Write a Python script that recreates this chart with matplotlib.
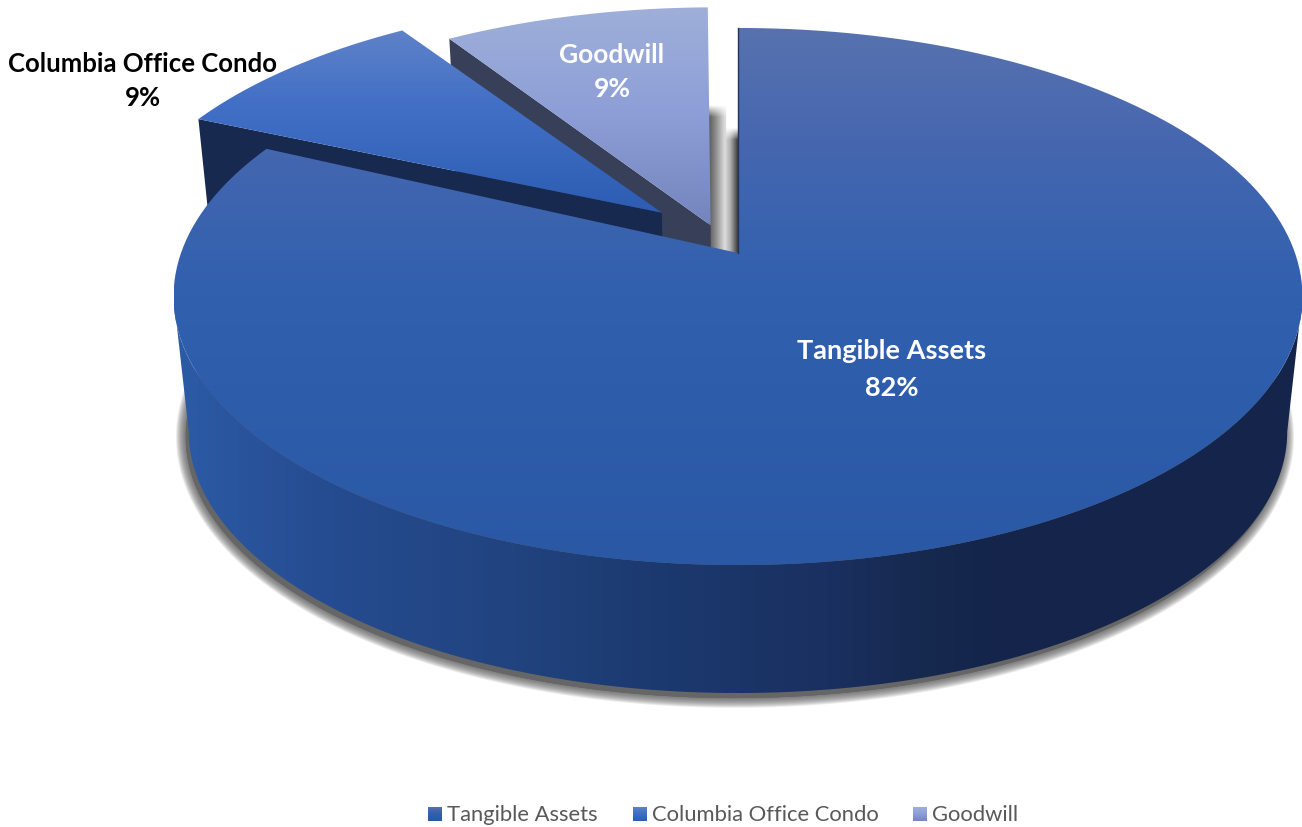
import numpy as np
import matplotlib
matplotlib.use('Agg')
import matplotlib.pyplot as plt
from matplotlib.colors import LinearSegmentedColormap
from matplotlib.patches import Polygon

# slices, clockwise from 12 o'clock
names = ['Tangible Assets', 'Columbia Office Condo', 'Goodwill']
shares = [82, 9, 9]
label_colors = ['white', 'black', 'white']
legend_color = '#595959'

# how far each slice is pulled out of the pie (disc units) and turned (degrees)
explode = [(0.0, 0.0), (-0.14, -0.158), (-0.05, -0.108)]
turn = [0, -1.6, -0.8]

# gradients as (position, colour)
top_fills = [
    [(0, '#5872ae'), (0.2, '#4767b0'), (0.5, '#3060ae'), (1, '#2a58a5')],
    [(0, '#5f82c8'), (0.4, '#4270c6'), (1, '#2c5db3')],
    [(0, '#9fafd9'), (0.5, '#8d9ed7'), (1, '#7485bd')],
]
wall_fill = [(0, '#2c5ba6'), (0.12, '#264d92'), (0.3, '#21437f'), (0.42, '#1c3a70'),
             (0.58, '#1a3060'), (0.66, '#16294f'), (0.74, '#14244a'), (1, '#14244a')]
face_colors = ['#14244a', '#17294f', '#383f58']

# disc projection with perspective, the near side is larger
cx, cy = 738, 253
rx, ry = 557, 261.5
persp = -0.162
depth_scale = 0.973
depth_drop = 136.4


def project(X, Y, z=0):
    w = 1 + persp * Y
    s = depth_scale if z else 1
    return cx + rx * X / w * s, cy + ry * Y / w * s + depth_drop * z


def rim(a0, a1, shift=(0, 0), z=0, n=200):
    a = np.radians(np.linspace(a0, a1, n))
    return np.column_stack(project(np.sin(a) + shift[0], -np.cos(a) + shift[1], z))


def shaded(ax, pts, stops, zorder, vertical=True):
    poly = Polygon(pts, closed=True, fc='none', ec='none', zorder=zorder)
    ax.add_patch(poly)
    x0, y0 = pts.min(axis=0)
    x1, y1 = pts.max(axis=0)
    cmap = LinearSegmentedColormap.from_list('fill', stops)
    g = np.linspace(0, 1, 256)
    g = g[:, None] if vertical else g[None, :]
    im = ax.imshow(g, cmap=cmap, vmin=0, vmax=1, extent=(x0, x1, y1, y0), aspect='auto',
                   interpolation='bilinear', zorder=zorder)
    im.set_clip_path(poly)


fig = plt.figure(figsize=(13.02, 8.27), dpi=100)
ax = fig.add_axes([0, 0, 1, 1])

edges = np.cumsum([0] + shares) * 3.6

# soft shadow under the pie
low = rim(75, 285, z=1) + [-3, 5]
for lw in np.arange(14, 0, -1.5):
    ax.add_patch(Polygon(low, closed=True, fc='#666666', ec='#555555', lw=lw, alpha=0.13,
                         joinstyle='round', zorder=1))
ax.add_patch(Polygon(low, closed=True, fc='#666666', ec='none', zorder=1))

# gap between the goodwill slice and the main slice
gap_x = np.linspace(708, 738, 60)
gap_y = np.linspace(98, 256, 158)
gap_cmap = LinearSegmentedColormap.from_list('gap', [(0, '#565656'), (0.26, '#8e8e8e'), (0.56, '#dddddd'),
                                                     (0.75, '#b0b0b0'), (1, '#3e3e3e')])
gap = gap_cmap((gap_x - gap_x[0]) / (gap_x[-1] - gap_x[0]))[None, :, :].repeat(len(gap_y), axis=0)
gap_top = np.where(gap_x < 726, 107, 130)
gap[:, :, 3] = np.clip((gap_y[:, None] - gap_top[None, :]) / 12 + 0.2, 0, 1)
ax.imshow(gap, extent=(708, 738, 256, 98), aspect='auto', interpolation='bilinear', zorder=2)

# cut faces of the pulled out slices, back one first
for i, z in ((2, 3), (1, 5)):
    a = edges[i] + turn[i]
    start = rim(a, a, explode[i], n=1)[0]
    start_low = rim(a, a, explode[i], z=1, n=1)[0]
    apex = np.array(project(explode[i][0], explode[i][1]))
    apex_low = np.array(project(explode[i][0], explode[i][1], 1))
    ax.add_patch(Polygon([start, apex, apex_low, start_low], closed=True, fc=face_colors[i],
                         ec='none', zorder=z))

# side wall of the main slice
tangent = np.degrees(np.arcsin(-persp))
right, left = 90 + tangent, 270 - tangent
wall = np.vstack([rim(right, left), rim(left, right, z=1)])
shaded(ax, wall, wall_fill, 7, vertical=False)

# top surfaces
for i, z in ((2, 4), (1, 6), (0, 8)):
    apex = np.array(project(explode[i][0], explode[i][1]))
    top = np.vstack([apex, rim(edges[i] + turn[i], edges[i + 1] + turn[i], explode[i])])
    shaded(ax, top, top_fills[i], z)

# dark edge along the upright side of the main slice
ax.plot(*zip(project(0, 0), project(0, -1)), color='#22345e', lw=1, zorder=9)

# slice labels
font = ['Lato', 'DejaVu Sans']
label_pos = [(892, 351, 388), (143, 64, 98), (612, 55, 89)]
label_sizes = [19.5, 18.5, 19]
for name, share, col, (x, y1, y2), fs in zip(names, shares, label_colors, label_pos, label_sizes):
    ax.text(x, y1, name, color=col, ha='center', va='center', fontsize=fs, fontweight='bold',
            family=font, zorder=10)
    ax.text(x, y2, f'{share}%', color=col, ha='center', va='center', fontsize=fs, fontweight='bold',
            family=font, zorder=10)

# legend along the bottom
legend_x = [428, 633, 913]
for name, x, stops in zip(names, legend_x, top_fills):
    sq = np.array([[x, 807], [x + 14, 807], [x + 14, 821], [x, 821]], dtype=float)
    shaded(ax, sq, stops, 10)
    ax.text(x + 19, 815, name, color=legend_color, ha='left', va='center', fontsize=15.8,
            family=font, zorder=10)

ax.set_xlim(0, 1302)
ax.set_ylim(827, 0)
ax.axis('off')
fig.savefig('out.png', dpi=100, facecolor='white')
